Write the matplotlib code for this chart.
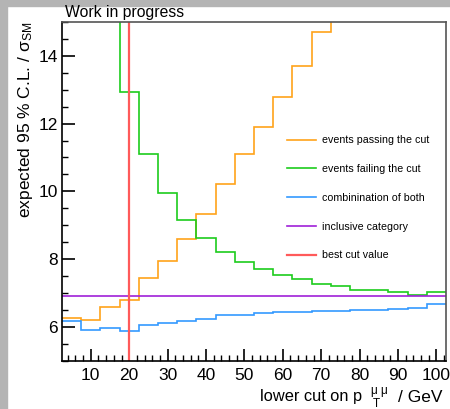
import numpy as np
import matplotlib
matplotlib.use("Agg")
import matplotlib.pyplot as plt
from matplotlib.patches import Rectangle

plt.rcParams['font.family'] = ['Liberation Sans', 'DejaVu Sans']
plt.rcParams['mathtext.fontset'] = 'custom'
plt.rcParams['mathtext.rm'] = 'Liberation Sans'
plt.rcParams['mathtext.it'] = 'Liberation Sans:italic'

# --- data: bins of 5 GeV centred on 5, 10, ..., 100 ---
bin_edges = np.arange(2.5, 103.0, 5.0)
passing = [6.27, 6.19, 6.59, 6.80, 7.43, 7.95, 8.59, 9.32, 10.21, 11.09,
           11.90, 12.80, 13.69, 14.69, 15.6, 16.5, 17.4, 18.3, 19.2, 20.1]
failing = [18.0, 16.5, 15.6, 12.93, 11.09, 9.96, 9.16, 8.61, 8.21, 7.90,
           7.72, 7.53, 7.40, 7.26, 7.21, 7.09, 7.09, 7.02, 6.95, 7.02]
combined = [6.16, 5.91, 5.96, 5.88, 6.04, 6.10, 6.17, 6.24, 6.34, 6.34,
            6.41, 6.45, 6.45, 6.46, 6.46, 6.51, 6.51, 6.53, 6.56, 6.66]
inclusive = 6.91
best_cut = 20

labels = ["events passing the cut", "events failing the cut",
          "combinination of both", "inclusive category", "best cut value"]
colors = ["#ffa31a", "#1ccc1c", "#3399ff", "#a020d8", "#ff5a5a"]

W, H = 450, 409


def px(x, y):
    # pixel position (from top-left) -> figure fraction
    return x / W, 1 - y / H


fig = plt.figure(figsize=(4.5, 4.09), dpi=100)
fig.patch.set_facecolor('white')
# grey canvas border (left / top)
fig.patches.append(Rectangle((0, 0), 7 / W, 1, transform=fig.transFigure,
                             color='#b4b4b4', zorder=-10))
fig.patches.append(Rectangle((0, 1 - 5.5 / H), 1, 5.5 / H, transform=fig.transFigure,
                             color='#b4b4b4', zorder=-10))

ax = fig.add_axes([62 / W, 1 - 360.7 / H, 384 / W, 338.7 / H])

lw = 1.2
h1 = ax.stairs(passing, bin_edges, color=colors[0], lw=lw, baseline=None)
h2 = ax.stairs(failing, bin_edges, color=colors[1], lw=lw, baseline=None)
h3 = ax.stairs(combined, bin_edges, color=colors[2], lw=lw, baseline=None)
l4 = ax.axhline(inclusive, color=colors[3], lw=1.2)
l5 = ax.axvline(best_cut, color=colors[4], lw=1.6)

ax.set_xlim(2.5, 102.5)
ax.set_ylim(5, 15)

ax.set_xticks(np.arange(10, 101, 10))
ax.set_xticks(np.arange(4, 103, 2), minor=True)
ax.set_yticks(np.arange(6, 15, 2))
ax.set_yticks(np.arange(5, 15.01, 0.5), minor=True)
ax.tick_params(which='both', direction='in', top=False, right=False, labelsize=12.5)
ax.tick_params(which='major', length=9, width=1.2)
ax.tick_params(which='minor', length=4.5, width=1.0)
ax.tick_params(axis='x', pad=5)
ax.tick_params(axis='y', pad=3)

for s in ['left', 'bottom']:
    ax.spines[s].set_linewidth(1.2)
    ax.spines[s].set_color('black')
for s in ['top', 'right']:
    ax.spines[s].set_linewidth(1.2)
    ax.spines[s].set_color('#555555')

ax.set_ylabel(r"expected 95 % C.L. / $\mathrm{\sigma}_{\mathrm{SM}}$", fontsize=12.5, loc='top')
ax.yaxis.set_label_coords(-0.07, 1.0)

# x title drawn in pieces (ROOT-style spread of super/subscript)
fig.text(*px(362, 401.5), "lower cut on p", fontsize=11.8, ha='right', va='baseline')
fig.text(*px(371, 394), "\u03bc \u03bc", fontsize=8.5, ha='left', va='baseline')
fig.text(*px(373, 407), "T", fontsize=8.5, ha='left', va='baseline')
fig.text(*px(443, 401.5), "/ GeV", fontsize=12.5, ha='right', va='baseline')

fig.text(*px(65, 17), "Work in progress", fontsize=11.3, va='baseline', ha='left')

ax.legend([h1, h2, h3, l4, l5], labels, loc='upper left',
          bbox_to_anchor=(0.586, 0.665), frameon=False, fontsize=7.7,
          handlelength=2.7, handletextpad=0.55, labelspacing=1.75,
          borderpad=0, borderaxespad=0)

fig.savefig("out.png", dpi=100)
